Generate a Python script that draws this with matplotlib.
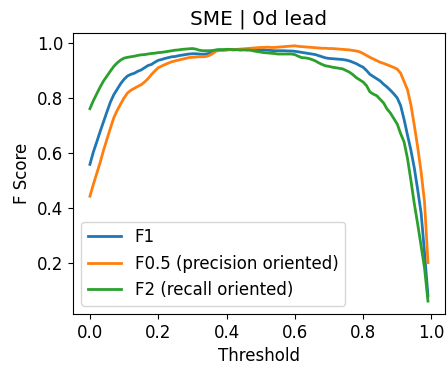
import numpy as np
import matplotlib
matplotlib.use("Agg")
import matplotlib.pyplot as plt

plt.rcParams['font.size'] = 12

# thresholds 0.00 ... 0.99
thresholds = np.arange(100) / 100

# F1 score
f1 = [0.558, 0.603, 0.640, 0.678, 0.714, 0.750, 0.785, 0.812, 0.832, 0.852,
      0.868, 0.880, 0.886, 0.890, 0.897, 0.902, 0.910, 0.918, 0.922, 0.930,
      0.937, 0.940, 0.944, 0.947, 0.950, 0.951, 0.954, 0.956, 0.958, 0.960,
      0.961, 0.961, 0.960, 0.959, 0.960, 0.963, 0.967, 0.974, 0.975, 0.974,
      0.975, 0.976, 0.975, 0.976, 0.975, 0.976, 0.975, 0.976, 0.975, 0.975,
      0.975, 0.975, 0.974, 0.973, 0.972, 0.972, 0.972, 0.972, 0.971, 0.971,
      0.970, 0.968, 0.966, 0.964, 0.962, 0.960, 0.958, 0.954, 0.950, 0.946,
      0.944, 0.943, 0.942, 0.941, 0.940, 0.938, 0.935, 0.930, 0.925, 0.918,
      0.912, 0.900, 0.886, 0.878, 0.870, 0.862, 0.850, 0.840, 0.828, 0.815,
      0.800, 0.772, 0.722, 0.665, 0.610, 0.545, 0.465, 0.380, 0.235, 0.080]

# F0.5 score
f05 = [0.442, 0.485, 0.525, 0.565, 0.610, 0.650, 0.690, 0.728, 0.755, 0.778,
       0.800, 0.818, 0.828, 0.835, 0.842, 0.848, 0.858, 0.870, 0.885, 0.898,
       0.910, 0.916, 0.922, 0.927, 0.932, 0.935, 0.938, 0.941, 0.944, 0.947,
       0.948, 0.949, 0.950, 0.950, 0.951, 0.955, 0.962, 0.971, 0.973, 0.974,
       0.975, 0.976, 0.976, 0.977, 0.978, 0.979, 0.980, 0.981, 0.982, 0.983,
       0.984, 0.984, 0.985, 0.984, 0.984, 0.985, 0.986, 0.987, 0.988, 0.989,
       0.990, 0.988, 0.987, 0.986, 0.985, 0.984, 0.983, 0.982, 0.981, 0.981,
       0.980, 0.980, 0.979, 0.978, 0.977, 0.976, 0.975, 0.973, 0.971, 0.968,
       0.962, 0.955, 0.948, 0.942, 0.936, 0.930, 0.926, 0.921, 0.916, 0.911,
       0.905, 0.890, 0.860, 0.830, 0.775, 0.700, 0.620, 0.530, 0.420, 0.200]

# F2 score
f2 = [0.761, 0.790, 0.815, 0.840, 0.862, 0.880, 0.898, 0.915, 0.928, 0.938,
      0.945, 0.948, 0.950, 0.952, 0.955, 0.957, 0.958, 0.960, 0.962, 0.963,
      0.965, 0.966, 0.968, 0.970, 0.972, 0.974, 0.975, 0.977, 0.978, 0.979,
      0.980, 0.978, 0.974, 0.972, 0.972, 0.972, 0.973, 0.975, 0.976, 0.976,
      0.977, 0.977, 0.976, 0.976, 0.975, 0.975, 0.975, 0.974, 0.971, 0.969,
      0.967, 0.965, 0.964, 0.963, 0.962, 0.960, 0.960, 0.960, 0.960, 0.960,
      0.958, 0.952, 0.947, 0.946, 0.944, 0.940, 0.935, 0.928, 0.922, 0.917,
      0.915, 0.912, 0.910, 0.908, 0.906, 0.900, 0.894, 0.885, 0.874, 0.866,
      0.858, 0.845, 0.822, 0.814, 0.808, 0.795, 0.782, 0.760, 0.745, 0.725,
      0.705, 0.670, 0.640, 0.580, 0.500, 0.415, 0.340, 0.260, 0.180, 0.060]

fig = plt.figure(figsize=(4.48, 3.71), dpi=100)
ax = fig.add_axes([0.163, 0.154, 0.830, 0.757])

ax.plot(thresholds, f1, lw=2, label="F1")
ax.plot(thresholds, f05, lw=2, label="F0.5 (precision oriented)")
ax.plot(thresholds, f2, lw=2, label="F2 (recall oriented)")

ax.set_title("SME | 0d lead")
ax.set_xlabel("Threshold")
ax.set_ylabel("F Score")
ax.legend(loc="lower left")

fig.savefig("out.png", dpi=100)
